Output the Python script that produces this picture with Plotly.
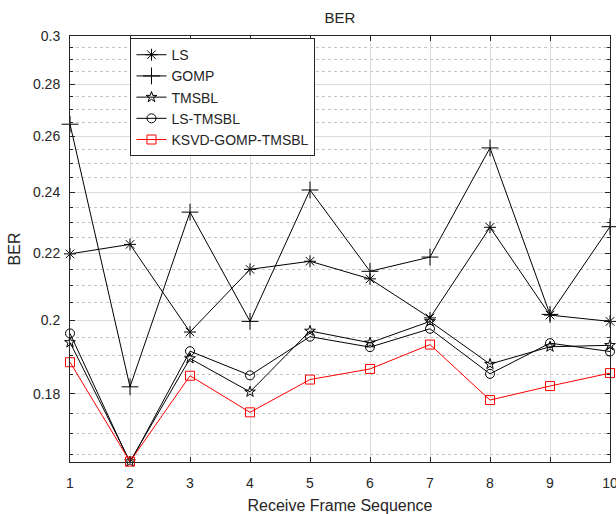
import math
import plotly.graph_objects as go

# Receive frame index
frames = [1, 2, 3, 4, 5, 6, 7, 8, 9, 10]

# Bit error rate per estimator
ber_ls = [0.2198, 0.2228, 0.1966, 0.2150, 0.2175, 0.2121, 0.2006, 0.2283, 0.2014, 0.1996]
ber_gomp = [0.2645, 0.1818, 0.2333, 0.1996, 0.2408, 0.2144, 0.2188, 0.2557, 0.2016, 0.2285]
ber_tmsbl = [0.1937, 0.1634, 0.1893, 0.1805, 0.1969, 0.1936, 0.1996, 0.1878, 0.1925, 0.1929]
ber_ls_tmsbl = [0.1962, 0.1631, 0.1913, 0.1848, 0.1953, 0.1924, 0.1975, 0.1852, 0.1935, 0.1912]
ber_ksvd = [0.1883, 0.1634, 0.1847, 0.1753, 0.1837, 0.1865, 0.1931, 0.1784, 0.1820, 0.1854]

y_ticks = [0.18, 0.2, 0.22, 0.24, 0.26, 0.28, 0.3]
y_tick_text = ["0.18", "0.2", "0.22", "0.24", "0.26", "0.28", "0.3"]
x_tick_text = [str(f) for f in frames]

# log-scaled BER axis limits and dotted minor grid every 0.005
y_lo, y_hi = 0.1633, 0.3
minor_vals = [round(0.165 + 0.005 * k, 3) for k in range(28)]

series = [
    ("LS", ber_ls, "asterisk-open", "#000000", 10),
    ("GOMP", ber_gomp, "cross-thin-open", "#000000", 12),
    ("TMSBL", ber_tmsbl, "star-open", "#000000", 8),
    ("LS-TMSBL", ber_ls_tmsbl, "circle-open", "#000000", 9),
    ("KSVD-GOMP-TMSBL", ber_ksvd, "square-open", "#ff0000", 9),
]

fig = go.Figure()
for name, vals, sym, col, size in series:
    fig.add_trace(go.Scatter(
        x=frames, y=vals, name=name, mode="lines+markers",
        line=dict(color=col, width=1),
        marker=dict(symbol=sym, size=size, color=col,
                    line=dict(color=col, width=1)),
        cliponaxis=False,
    ))

axis_color = "#262626"
grid_major = "#dcdcdc"
grid_minor = "#c4c4c4"

fig.update_layout(
    width=616, height=514,
    margin=dict(l=70, r=6, t=36, b=52),
    paper_bgcolor="white", plot_bgcolor="white",
    font=dict(family="Liberation Sans, Arial, sans-serif", size=14, color=axis_color),
    title=dict(text="BER", x=0.5, xref="paper", xanchor="center",
               y=1 - 18 / 514, yanchor="middle",
               font=dict(size=15, color=axis_color)),
    showlegend=True,
    legend=dict(x=0.112, y=0.995, xanchor="left", yanchor="top",
                bgcolor="white", bordercolor="#262626", borderwidth=1,
                font=dict(size=14, color=axis_color),
                tracegroupgap=0),
)

fig.update_xaxes(
    range=[1, 10], tickvals=frames, ticktext=x_tick_text,
    automargin=False,
    showline=True, linecolor=axis_color, linewidth=1, mirror="allticks",
    ticks="inside", ticklen=5, tickcolor=axis_color,
    showgrid=True, gridcolor=grid_major, gridwidth=1, zeroline=False,
    tickfont=dict(size=14, color=axis_color), ticklabeloverflow="allow",
    ticklabelstandoff=8,
    title=dict(text="Receive Frame Sequence", font=dict(size=16, color=axis_color), standoff=12),
)

fig.update_yaxes(
    type="log", range=[math.log10(y_lo), math.log10(y_hi)],
    tickvals=y_ticks, ticktext=y_tick_text,
    automargin=False,
    showline=True, linecolor=axis_color, linewidth=1, mirror="allticks",
    ticks="inside", ticklen=5, tickcolor=axis_color,
    showgrid=True, gridcolor=grid_major, gridwidth=1, zeroline=False,
    tickfont=dict(size=14, color=axis_color), ticklabelstandoff=6,
    minor=dict(tickmode="array", tickvals=minor_vals, showgrid=True,
               gridcolor=grid_minor, griddash="dot", gridwidth=1,
               ticks="inside", ticklen=3, tickcolor=axis_color),
    title=dict(text="BER", font=dict(size=16, color=axis_color), standoff=8),
)

fig.write_html("out.html")
